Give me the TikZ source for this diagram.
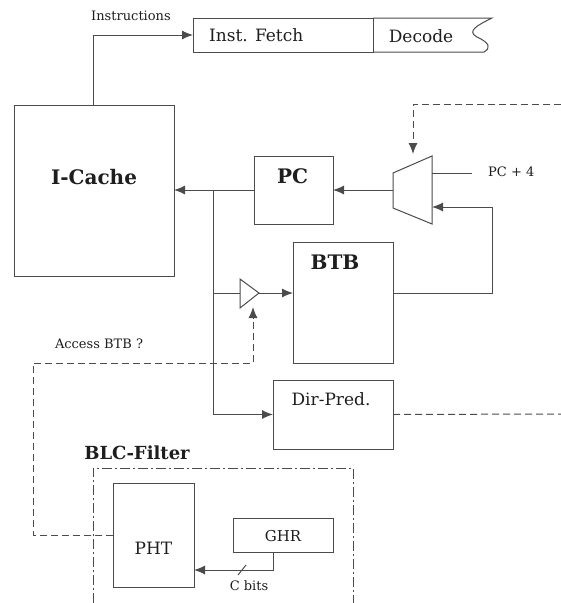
\documentclass[tikz,border=0pt]{standalone}
\usepackage{fontspec}
\setmainfont{DejaVu Serif}
\usetikzlibrary{arrows.meta}
\definecolor{wire}{RGB}{75,75,75}
\definecolor{ink}{RGB}{30,30,30}

\begin{document}
\begin{tikzpicture}[
    x=1pt, y=-1pt,
    block/.style={draw=wire, line width=1pt, anchor=north west, inner sep=0pt, outer sep=0pt},
    bigtxt/.style={font=\fontsize{20}{24}\selectfont\bfseries, text=ink},
    midtxt/.style={font=\fontsize{17}{20}\selectfont, text=ink},
    smalltxt/.style={font=\fontsize{13}{16}\selectfont, text=ink, inner sep=0pt},
    wireline/.style={draw=wire, line width=1pt},
    arrow/.style={wireline, -{Latex[length=11pt, width=9pt]}},
    ctrl/.style={wireline, dash pattern=on 7pt off 4pt},
    ctrlarrow/.style={ctrl, -{Latex[length=11pt, width=9pt]}},
    every label/.style={inner sep=0pt}
]
\useasboundingbox (0,0) rectangle (561,603);

% Blocks
\node[block, minimum width=160pt, minimum height=171pt,
  label={[bigtxt, yshift=13.5pt]center:I-Cache}] (icache) at (14,105) {};
\node[block, minimum width=180pt, minimum height=34pt,
  label={[midtxt, anchor=west, xshift=16pt]west:Inst. Fetch}] (fetch) at (193,18) {};
\node[midtxt] (decode) at (421,36) {Decode};
\node[block, minimum width=79pt, minimum height=68pt,
  label={[bigtxt, yshift=14pt, xshift=-1pt]center:PC}] (pc) at (254,156) {};
\node[block, minimum width=100pt, minimum height=121pt,
  label={[bigtxt, yshift=40pt, xshift=-8pt]center:BTB}] (btb) at (293,242) {};
\node[block, minimum width=120pt, minimum height=69pt,
  label={[midtxt, yshift=15.5pt, xshift=-2pt]center:Dir-Pred.}] (dirpred) at (273,380) {};
\node[block, minimum width=81pt, minimum height=104pt,
  label={[midtxt, yshift=-13pt]center:PHT}] (pht) at (113,483) {};
\node[block, minimum width=100pt, minimum height=34pt,
  label={[font=\fontsize{15}{18}\selectfont, text=ink, yshift=-1pt]center:GHR}] (ghr) at (233,518) {};

% Decode stage edge
\draw[wireline] (fetch.north east) -- (492,18)
  .. controls (478,25) and (466,31) .. (477,37)
  .. controls (490,43) and (491,48) .. (484,52) -- (fetch.south east);

% Mux and buffer
\coordinate (muxin) at (393,190);
\coordinate (muxhi) at (432,173);
\coordinate (muxlo) at (432,207);
\coordinate (muxtop) at (413,154);
\draw[wireline] (393,173) -- (432,156) -- (432,224) -- (393,208) -- cycle;
\coordinate (bufin) at (240,293);
\coordinate (bufout) at (259,293);
\coordinate (bufbot) at (253,307);
\draw[wireline] (240,279) -- (bufout) -- (240,308) -- cycle;

% Labels
\node[smalltxt] (instr) at (131,16) {Instructions};
\node[smalltxt, anchor=west] (pcfour) at (488,172) {PC + 4};
\node[smalltxt] (access) at (99,344) {Access BTB ?};
\node[smalltxt] (cbits) at (249,586) {C bits};
\node[font=\fontsize{18}{22}\selectfont\bfseries, text=ink] (blc) at (137,453) {BLC-Filter};

% Connections
\coordinate (split) at (213,190);
\coordinate (tap) at (213,293);
\coordinate (pcfourend) at (472,173);
\draw[arrow] ([xshift=-1pt]icache.north) |- (fetch.west);
\draw[arrow] (muxin) -- (pc.east);
\draw[arrow] (pc.west) -- (pc.west -| icache.east);
\draw[arrow] (split) |- (dirpred.west);
\draw[wireline] (tap) -- (bufin);
\draw[arrow] (bufout) -- (bufout -| btb.west);
\draw[arrow] (bufout -| btb.east) -- ++(99,0) |- (muxlo);
\draw[wireline] (muxhi) -- (pcfourend);
\draw[arrow] ([xshift=-10pt]ghr.south) |- ([yshift=-35pt]pht.east);
\draw[wireline] (238,575) -- (246,565);

% Control lines
\coordinate (muxsel) at (561,104);
\coordinate (dirout) at (561,414);
\draw[ctrlarrow] (muxsel) -| (muxtop);
\draw[ctrl] (dirpred.east) -- (dirout);
\draw[ctrlarrow] (pht.west) -| (33,363) -| (bufbot);

% Filter boundary
\draw[wireline, dash pattern=on 10pt off 3pt on 2pt off 3pt]
  (93,603) -- (93,468) -- (353,468) -- (353,603);
\end{tikzpicture}
\end{document}
